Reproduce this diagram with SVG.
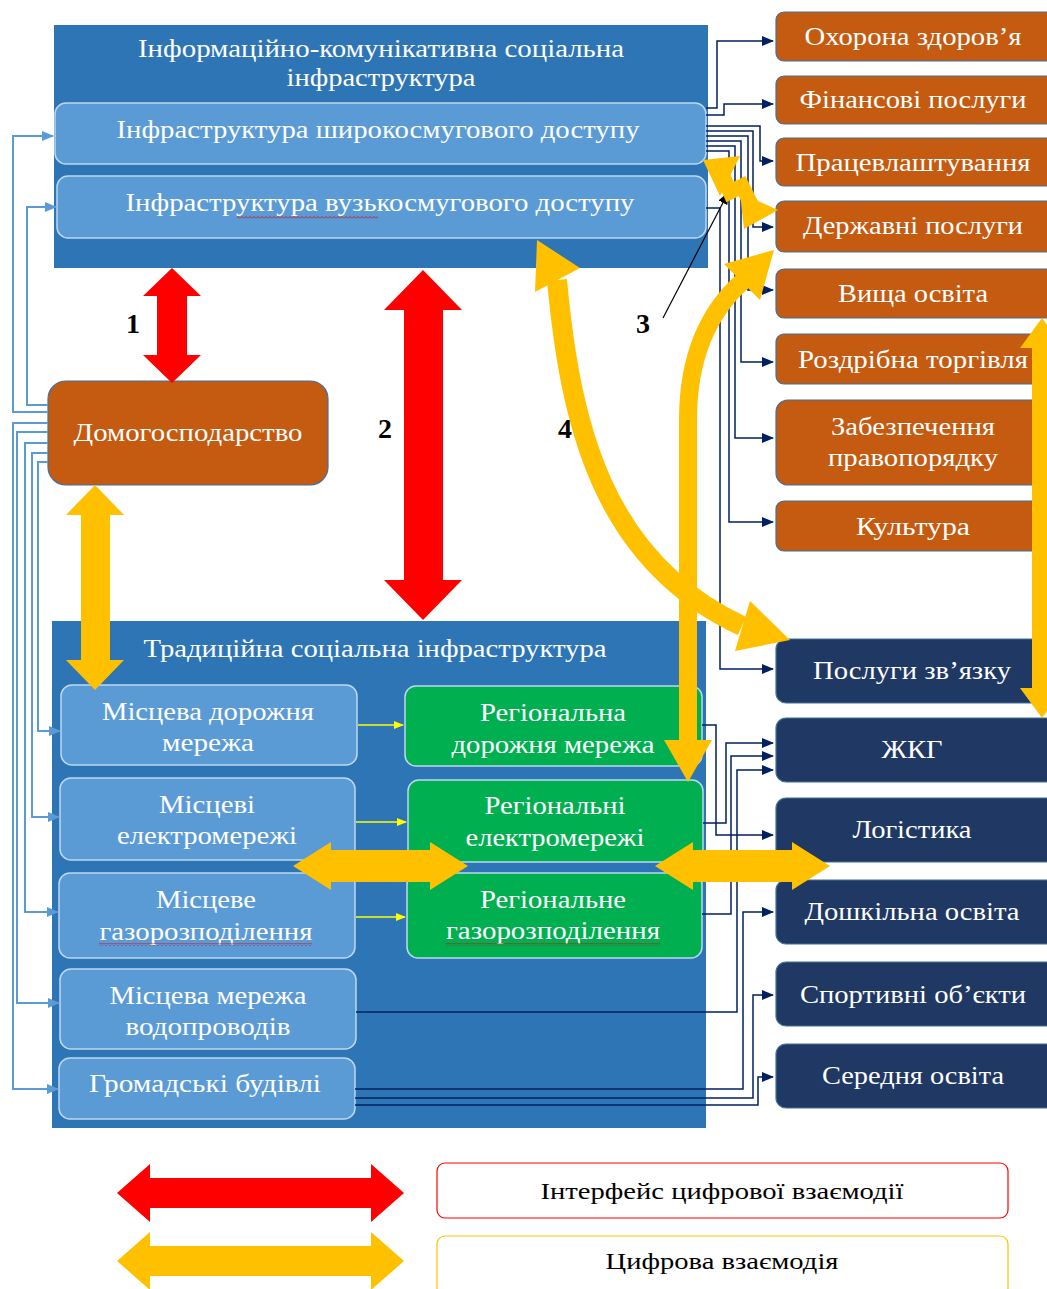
<svg xmlns="http://www.w3.org/2000/svg" width="1047" height="1289" viewBox="0 0 1047 1289">
<defs>
<style>
.t{font-family:"Liberation Serif","Times New Roman",serif;font-size:25px;fill:#fff;text-anchor:middle}
.tb{font-family:"Liberation Serif","Times New Roman",serif;font-size:28px;font-weight:bold;fill:#000;text-anchor:middle}
.tl{font-family:"Liberation Serif","Times New Roman",serif;font-size:23px;fill:#000;text-anchor:middle}
.cont{fill:#2E75B6}
.lb{fill:#5B9BD5;stroke:#BDD7EE;stroke-width:1.5}
.gr{fill:#00B050;stroke:#BDD7EE;stroke-width:1.5}
.or{fill:#C55A11;stroke:#41719C;stroke-width:1.2}
.dk{fill:#203864;stroke:#41719C;stroke-width:1.2}
.nv{fill:none;stroke:#002060;stroke-width:1.5}
.lt{fill:none;stroke:#5B9BD5;stroke-width:2}
.ye{fill:#FFC000}
.rd{fill:#FF0000}
.ys{fill:none;stroke:#FFC000}
.yl{fill:none;stroke:#FFFF00;stroke-width:1.5}
</style>
<marker id="mn" markerWidth="12" markerHeight="10" refX="11" refY="5" orient="auto" markerUnits="userSpaceOnUse"><path d="M0,0 L12,5 L0,10 Z" fill="#002060"/></marker>
<marker id="ml" markerWidth="12" markerHeight="10" refX="11" refY="5" orient="auto" markerUnits="userSpaceOnUse"><path d="M0,0 L12,5 L0,10 Z" fill="#5B9BD5"/></marker>
<marker id="my" markerWidth="10" markerHeight="8" refX="9" refY="4" orient="auto" markerUnits="userSpaceOnUse"><path d="M0,0 L10,4 L0,8 Z" fill="#FFFF00"/></marker>
<marker id="mk" markerWidth="12" markerHeight="10" refX="11" refY="5" orient="auto" markerUnits="userSpaceOnUse"><path d="M0,0 L12,5 L0,10 Z" fill="#000"/></marker>
<pattern id="wavy" width="4" height="3" patternUnits="userSpaceOnUse"><path d="M0,2.5 L2,0.5 L4,2.5" fill="none" stroke="#E00000" stroke-width="0.8"/></pattern>
</defs>
<rect width="1047" height="1289" fill="#fff"/>

<g id="ict">
<rect class="cont" x="54" y="25" width="654" height="243"/>
<text class="t" x="381" y="57" textLength="486" lengthAdjust="spacingAndGlyphs">Інформаційно-комунікативна соціальна</text>
<text class="t" x="381" y="86" textLength="189" lengthAdjust="spacingAndGlyphs">інфраструктура</text>
</g>
<g id="broadband">
<rect class="lb" x="55" y="103" width="651" height="61" rx="11"/>
<text class="t" x="378" y="138" textLength="523" lengthAdjust="spacingAndGlyphs">Інфраструктура широкосмугового доступу</text>
</g>
<g id="narrowband">
<rect class="lb" x="57" y="176" width="649" height="62" rx="11"/>
<text class="t" x="380" y="211" textLength="509" lengthAdjust="spacingAndGlyphs">Інфраструктура вузькосмугового доступу</text>
<rect x="237" y="216" width="141" height="3" fill="url(#wavy)"/>
</g>

<g id="household">
<rect class="or" x="48" y="381" width="280" height="104" rx="18"/>
<text class="t" x="188" y="441" textLength="229" lengthAdjust="spacingAndGlyphs">Домогосподарство</text>
</g>

<g id="traditional">
<rect class="cont" x="52" y="621" width="654" height="507"/>
<text class="t" x="375" y="657" textLength="463" lengthAdjust="spacingAndGlyphs">Традиційна соціальна інфраструктура</text>
</g>
<g id="local-road">
<rect class="lb" x="61" y="685" width="296" height="80" rx="11"/>
<text class="t" x="208" y="720" textLength="212" lengthAdjust="spacingAndGlyphs">Місцева дорожня</text>
<text class="t" x="208" y="751" textLength="92" lengthAdjust="spacingAndGlyphs">мережа</text>
</g>
<g id="local-power">
<rect class="lb" x="60" y="778" width="295" height="82" rx="11"/>
<text class="t" x="207" y="813" textLength="96" lengthAdjust="spacingAndGlyphs">Місцеві</text>
<text class="t" x="207" y="844" textLength="180" lengthAdjust="spacingAndGlyphs">електромережі</text>
</g>
<g id="local-gas">
<rect class="lb" x="59" y="873" width="296" height="85" rx="11"/>
<text class="t" x="206" y="908" textLength="100" lengthAdjust="spacingAndGlyphs">Місцеве</text>
<text class="t" x="206" y="940" textLength="213" lengthAdjust="spacingAndGlyphs">газорозподілення</text>
<rect x="99" y="943" width="213" height="3" fill="url(#wavy)"/>
</g>
<g id="local-water">
<rect class="lb" x="60" y="969" width="296" height="80" rx="11"/>
<text class="t" x="208" y="1004" textLength="197" lengthAdjust="spacingAndGlyphs">Місцева мережа</text>
<text class="t" x="208" y="1035" textLength="165" lengthAdjust="spacingAndGlyphs">водопроводів</text>
</g>
<g id="public-buildings">
<rect class="lb" x="59" y="1058" width="296" height="61" rx="11"/>
<text class="t" x="205" y="1092" textLength="232" lengthAdjust="spacingAndGlyphs">Громадські будівлі</text>
</g>
<g id="reg-road">
<rect class="gr" x="405" y="686" width="297" height="80" rx="11"/>
<text class="t" x="553" y="721" textLength="146" lengthAdjust="spacingAndGlyphs">Регіональна</text>
<text class="t" x="553" y="753" textLength="203" lengthAdjust="spacingAndGlyphs">дорожня мережа</text>
</g>
<g id="reg-power">
<rect class="gr" x="408" y="780" width="295" height="82" rx="11"/>
<text class="t" x="555" y="814" textLength="141" lengthAdjust="spacingAndGlyphs">Регіональні</text>
<text class="t" x="555" y="846" textLength="179" lengthAdjust="spacingAndGlyphs">електромережі</text>
</g>
<g id="reg-gas">
<rect class="gr" x="407" y="873" width="295" height="85" rx="11"/>
<text class="t" x="553" y="908" textLength="146" lengthAdjust="spacingAndGlyphs">Регіональне</text>
<text class="t" x="553" y="939" textLength="214" lengthAdjust="spacingAndGlyphs">газорозподілення</text>
<rect x="446" y="943" width="214" height="3" fill="url(#wavy)"/>
</g>

<g id="health"><rect class="or" x="776" y="12" width="290" height="49" rx="8"/><text class="t" x="913" y="45" textLength="217" lengthAdjust="spacingAndGlyphs">Охорона здоров’я</text></g>
<g id="finance"><rect class="or" x="776" y="76" width="290" height="48" rx="8"/><text class="t" x="913" y="108" textLength="227" lengthAdjust="spacingAndGlyphs">Фінансові послуги</text></g>
<g id="employment"><rect class="or" x="776" y="138" width="290" height="48" rx="8"/><text class="t" x="913" y="171" textLength="235" lengthAdjust="spacingAndGlyphs">Працевлаштування</text></g>
<g id="gov"><rect class="or" x="776" y="201" width="290" height="51" rx="8"/><text class="t" x="913" y="234" textLength="220" lengthAdjust="spacingAndGlyphs">Державні послуги</text></g>
<g id="higher-ed"><rect class="or" x="776" y="269" width="290" height="49" rx="8"/><text class="t" x="913" y="302" textLength="150" lengthAdjust="spacingAndGlyphs">Вища освіта</text></g>
<g id="retail"><rect class="or" x="776" y="334" width="290" height="50" rx="8"/><text class="t" x="913" y="368" textLength="230" lengthAdjust="spacingAndGlyphs">Роздрібна торгівля</text></g>
<g id="law"><rect class="or" x="776" y="400" width="290" height="85" rx="12"/><text class="t" x="913" y="435" textLength="164" lengthAdjust="spacingAndGlyphs">Забезпечення</text><text class="t" x="913" y="466" textLength="170" lengthAdjust="spacingAndGlyphs">правопорядку</text></g>
<g id="culture"><rect class="or" x="776" y="501" width="290" height="50" rx="8"/><text class="t" x="913" y="535" textLength="114" lengthAdjust="spacingAndGlyphs">Культура</text></g>
<g id="telecom"><rect class="dk" x="776" y="639" width="290" height="64" rx="10"/><text class="t" x="912" y="679" textLength="198" lengthAdjust="spacingAndGlyphs">Послуги зв’язку</text></g>
<g id="housing"><rect class="dk" x="776" y="718" width="290" height="64" rx="10"/><text class="t" x="912" y="758" textLength="61" lengthAdjust="spacingAndGlyphs">ЖКГ</text></g>
<g id="logistics"><rect class="dk" x="776" y="798" width="290" height="64" rx="10"/><text class="t" x="912" y="838" textLength="119" lengthAdjust="spacingAndGlyphs">Логістика</text></g>
<g id="preschool"><rect class="dk" x="776" y="880" width="290" height="64" rx="10"/><text class="t" x="912" y="920" textLength="215" lengthAdjust="spacingAndGlyphs">Дошкільна освіта</text></g>
<g id="sports"><rect class="dk" x="776" y="962" width="290" height="64" rx="10"/><text class="t" x="913" y="1003" textLength="226" lengthAdjust="spacingAndGlyphs">Спортивні об’єкти</text></g>
<g id="secondary"><rect class="dk" x="776" y="1044" width="290" height="64" rx="10"/><text class="t" x="913" y="1084" textLength="182" lengthAdjust="spacingAndGlyphs">Середня освіта</text></g>

<g id="connectors">
<path class="nv" d="M706,108 H717 V41 H773" marker-end="url(#mn)"/>
<path class="nv" d="M706,115 H724 V104 H773" marker-end="url(#mn)"/>
<path class="nv" d="M706,126 H760 V161 H773" marker-end="url(#mn)"/>
<path class="nv" d="M706,131 H753 V227 H773" marker-end="url(#mn)"/>
<path class="nv" d="M706,136 H748 V290 H773" marker-end="url(#mn)"/>
<path class="nv" d="M706,141 H741 V362 H773" marker-end="url(#mn)"/>
<path class="nv" d="M706,146 H735 V438 H773" marker-end="url(#mn)"/>
<path class="nv" d="M706,151 H729 V522 H773" marker-end="url(#mn)"/>
<path class="nv" d="M706,208 H720 V669 H773" marker-end="url(#mn)"/>
<path class="nv" d="M702,725 H716 V835 H773" marker-end="url(#mn)"/>
<path class="nv" d="M703,823 H726 V743 H773" marker-end="url(#mn)"/>
<path class="nv" d="M702,914 H731 V756 H773" marker-end="url(#mn)"/>
<path class="nv" d="M356,1012 H737 V770 H773" marker-end="url(#mn)"/>
<path class="nv" d="M355,1089 H743 V912 H773" marker-end="url(#mn)"/>
<path class="nv" d="M355,1098 H753 V995 H773" marker-end="url(#mn)"/>
<path class="nv" d="M355,1105 H758 V1077 H773" marker-end="url(#mn)"/>
<path class="lt" d="M48,412 H13 V136 H53" marker-end="url(#ml)"/>
<path class="lt" d="M48,405 H27 V207 H56" marker-end="url(#ml)"/>
<path class="lt" d="M48,462 H38 V731 H60" marker-end="url(#ml)"/>
<path class="lt" d="M48,453 H32 V817 H59" marker-end="url(#ml)"/>
<path class="lt" d="M48,443 H25 V912 H58" marker-end="url(#ml)"/>
<path class="lt" d="M48,432 H17 V1003 H59" marker-end="url(#ml)"/>
<path class="lt" d="M48,423 H13 V1089 H58" marker-end="url(#ml)"/>
<path class="yl" d="M358,725 H403" marker-end="url(#my)"/>
<path class="yl" d="M356,822 H406" marker-end="url(#my)"/>
<path class="yl" d="M356,917 H405" marker-end="url(#my)"/>
<path d="M663,318 L728,193" fill="none" stroke="#000" stroke-width="1.2" marker-end="url(#mk)"/>
</g>

<g id="interaction-arrows">
<polygon class="rd" points="172,268 201,296 187,296 187,355 201,355 172,383 143,355 157,355 157,296 143,296"/>
<polygon class="rd" points="423,270 462,310 443,310 443,580 462,580 423,620 384,580 404,580 404,310 384,310"/>
<polygon class="ye" points="95,485 124,515 110,515 110,660 124,660 95,690 66,660 81,660 81,515 66,515"/>
<polygon class="ye" points="293,866 331,842 331,850 430,850 430,842 468,866 430,890 430,882 331,882 331,890"/>
<polygon class="ye" points="655,866 693,842 693,850 792,850 792,842 830,866 792,890 792,882 693,882 693,890"/>
<polygon class="ye" points="1042,318 1064,348 1052,348 1052,688 1064,688 1042,718 1020,688 1032,688 1032,348 1020,348"/>
<path class="ys" stroke-width="20" d="M557,280 C570,420 600,560 742,626"/>
<polygon class="ye" points="537,240 580,268 535,292"/>
<polygon class="ye" points="790,640 735,651 750,601"/>
<path class="ys" stroke-width="18" d="M688,742 L688,420 C688,350 712,308 744,280"/>
<polygon class="ye" points="774,250 760,300 724,264"/>
<polygon class="ye" points="688,782 664,740 712,740"/>
<polyline class="ys" stroke-width="15" stroke-linejoin="miter" points="722,174 730,192 742,186 752,206"/>
<polygon class="ye" points="703,160 740,156 720,196"/>
<polygon class="ye" points="778,210 740,193 744,229"/>
</g>

<g id="labels">
<text class="tb" x="133" y="333">1</text>
<text class="tb" x="385" y="438">2</text>
<text class="tb" x="643" y="333">3</text>
<text class="tb" x="565" y="438">4</text>
</g>

<g id="legend">
<polygon class="rd" points="117,1193 150,1164 150,1178 371,1178 371,1164 404,1193 371,1222 371,1208 150,1208 150,1222"/>
<polygon class="ye" points="117,1261 150,1232 150,1246 371,1246 371,1232 404,1261 371,1290 371,1276 150,1276 150,1290"/>
<rect x="437" y="1163" width="571" height="55" rx="8" fill="#fff" stroke="#FF0000" stroke-width="1.2"/>
<text class="tl" x="722" y="1199" textLength="363" lengthAdjust="spacingAndGlyphs">Інтерфейс цифрової взаємодії</text>
<rect x="437" y="1236" width="571" height="60" rx="8" fill="#fff" stroke="#FFC000" stroke-width="1.2"/>
<text class="tl" x="722" y="1269" textLength="233" lengthAdjust="spacingAndGlyphs">Цифрова взаємодія</text>
</g>
</svg>
